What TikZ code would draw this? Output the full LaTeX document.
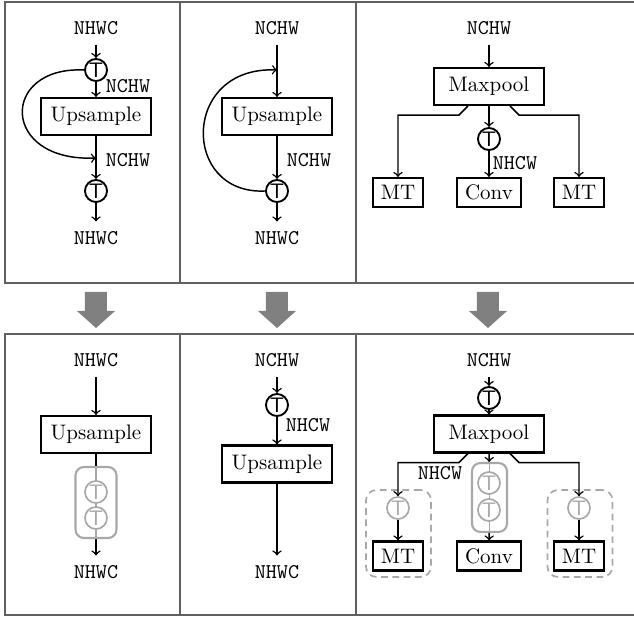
\documentclass[tikz,border=0pt]{standalone}
\usetikzlibrary{calc}
\definecolor{framec}{HTML}{606060}
\definecolor{grayc}{HTML}{A8A8A8}
\definecolor{bigarr}{HTML}{808080}
\begin{document}
\begin{tikzpicture}[x=0.476pt,y=-0.476pt,
  frame/.style={draw=framec,line width=0.6pt},
  lbl/.style={font=\ttfamily,inner sep=4.5pt},
  side/.style={font=\ttfamily,inner sep=1pt},
  box/.style={draw,line width=1pt,minimum width=52.4pt,minimum height=17.6pt,inner sep=1pt},
  sbox/.style={draw,line width=1pt,minimum height=13.8pt,inner sep=1pt},
  tc/.style={circle,draw,line width=0.9pt,fill=white,minimum size=10.5pt,inner sep=0pt,font=\sffamily},
  gtc/.style={circle,draw=grayc,text=grayc,line width=0.8pt,fill=white,minimum size=10.5pt,inner sep=0pt,font=\sffamily},
  grect/.style={draw=grayc,line width=1pt,rounded corners=4pt,fill=white,inner sep=0pt},
  drect/.style={draw=grayc,line width=0.8pt,rounded corners=5pt,dash pattern=on 3.2pt off 2.2pt,inner sep=0pt,minimum width=31pt,minimum height=41.4pt},
  gline/.style={draw=grayc,line width=0.7pt},
  arr/.style={->,line width=0.7pt}]
\useasboundingbox (0,0) rectangle (634,617);
% frames
\draw[frame] (634,2) -- (5,2) -- (5,283) -- (634,283);
\draw[frame] (180,2) -- (180,283);
\draw[frame] (356,2) -- (356,283);
\draw[frame] (634,334) -- (5,334) -- (5,615) -- (634,615);
\draw[frame] (180,334) -- (180,615);
\draw[frame] (356,334) -- (356,615);
% big arrows
\foreach \c in {96,277,488}{
  \fill[bigarr] (\c-11,292) -- (\c+11,292) -- (\c+11,311) -- (\c+19,311) -- (\c,328) -- (\c-19,311) -- (\c-11,311) -- cycle;
}
% ---------- top panel 1
\node[lbl] (a1) at (96,28) {NHWC};
\node[tc] (t1) at (96,70) {T};
\node[box] (u1) at (96,116.5) {Upsample};
\node[tc] (t2) at (96,191) {T};
\node[lbl] (b1) at (96,238) {NHWC};
\coordinate (j1) at (96,158);
\draw[arr] (a1) -- (t1);
\draw[arr] (t1) -- (u1);
\draw[arr] (u1) -- (t2);
\draw[arr] (t2) -- (b1);
\draw[arr] (t1.west) .. controls (0,66) and (0,162) .. (j1);
\node[side] (n1) at (128,86) {NCHW};
\node[side] (n2) at (128,160) {NCHW};
% ---------- top panel 2
\node[lbl] (a2) at (277,28) {NCHW};
\coordinate (j2) at (277,70);
\node[box] (u2) at (277,116.5) {Upsample};
\node[tc] (t3) at (277,191) {T};
\node[lbl] (b2) at (277,238) {NHWC};
\draw[arr] (a2) -- (u2);
\draw[arr] (u2) -- (t3);
\draw[arr] (t3) -- (b2);
\draw[arr] (t3.west) .. controls (181,195) and (181,66) .. (j2);
\node[side] (n3) at (309,160) {NCHW};
% ---------- top panel 3
\node[lbl] (a3) at (489,28) {NCHW};
\node[box] (m1) at (489,86.5) {Maxpool};
\node[tc] (t4) at (489,139) {T};
\node[sbox,minimum width=30.5pt] (c1) at (489,192.5) {Conv};
\node[sbox,minimum width=23.8pt] (mt1) at (398,192.5) {MT};
\node[sbox,minimum width=23.8pt] (mt2) at (579,192.5) {MT};
\draw[arr] (a3) -- (m1);
\draw[arr] (m1) -- (t4);
\draw[arr] (t4) -- (c1);
\draw[arr] ($(m1.south)+(-21,0)$) -- ++(-9,9) -| (mt1);
\draw[arr] ($(m1.south)+(21,0)$) -- ++(9,9) -| (mt2);
\node[side] (n4) at (515,163) {NHCW};
% ---------- bottom panel 1
\node[lbl] (a4) at (96,360) {NHWC};
\node[box] (u3) at (96,434.5) {Upsample};
\node[lbl] (b4) at (96,572) {NHWC};
\draw[arr] (a4) -- (u3);
\draw[arr] (u3) -- (b4);
\node[grect,minimum width=19.5pt,minimum height=33.8pt] (r1) at (96,502.5) {};
\draw[gline] (r1.north) -- (r1.south);
\node[gtc] (g1) at (96,492) {T};
\node[gtc] (g2) at (96,518) {T};
% ---------- bottom panel 2
\node[lbl] (a5) at (277,360) {NCHW};
\node[tc] (t5) at (277,405) {T};
\node[box] (u4) at (277,464) {Upsample};
\node[lbl] (b5) at (277,572) {NHWC};
\draw[arr] (a5) -- (t5);
\draw[arr] (t5) -- (u4);
\draw[arr] (u4) -- (b5);
\node[side] (n5) at (308,425) {NHCW};
% ---------- bottom panel 3
\node[lbl] (a6) at (489,360) {NCHW};
\node[tc] (t6) at (489,398) {T};
\node[box] (m2) at (489,434) {Maxpool};
\node[grect,minimum width=16.7pt,minimum height=32.8pt] (r2) at (489.5,497.5) {};
\draw[gline] (r2.north) -- (r2.south);
\node[gtc] (g3) at (489,483) {T};
\node[gtc] (g4) at (489,510) {T};
\node[sbox,minimum width=30.5pt] (c2) at (489,556) {Conv};
\node[drect] (d1) at (398.5,533.5) {};
\node[drect] (d2) at (580,533.5) {};
\node[gtc] (g5) at (398,508) {T};
\node[gtc] (g6) at (579,508) {T};
\node[sbox,minimum width=23.8pt] (mt3) at (398,556) {MT};
\node[sbox,minimum width=23.8pt] (mt4) at (579,556) {MT};
\draw[arr] (a6) -- (t6);
\draw[arr] (t6) -- (m2);
\draw[arr] (m2) -- (r2);
\draw[arr] (r2) -- (c2);
\draw[arr] ($(m2.south)+(-21,0)$) -- ++(-9,9) -| (g5);
\draw[arr] ($(m2.south)+(21,0)$) -- ++(9,9) -| (g6);
\draw[arr] (g5) -- (mt3);
\draw[arr] (g6) -- (mt4);
\node[side] (n6) at (440,473) {NHCW};
\end{tikzpicture}
\end{document}
